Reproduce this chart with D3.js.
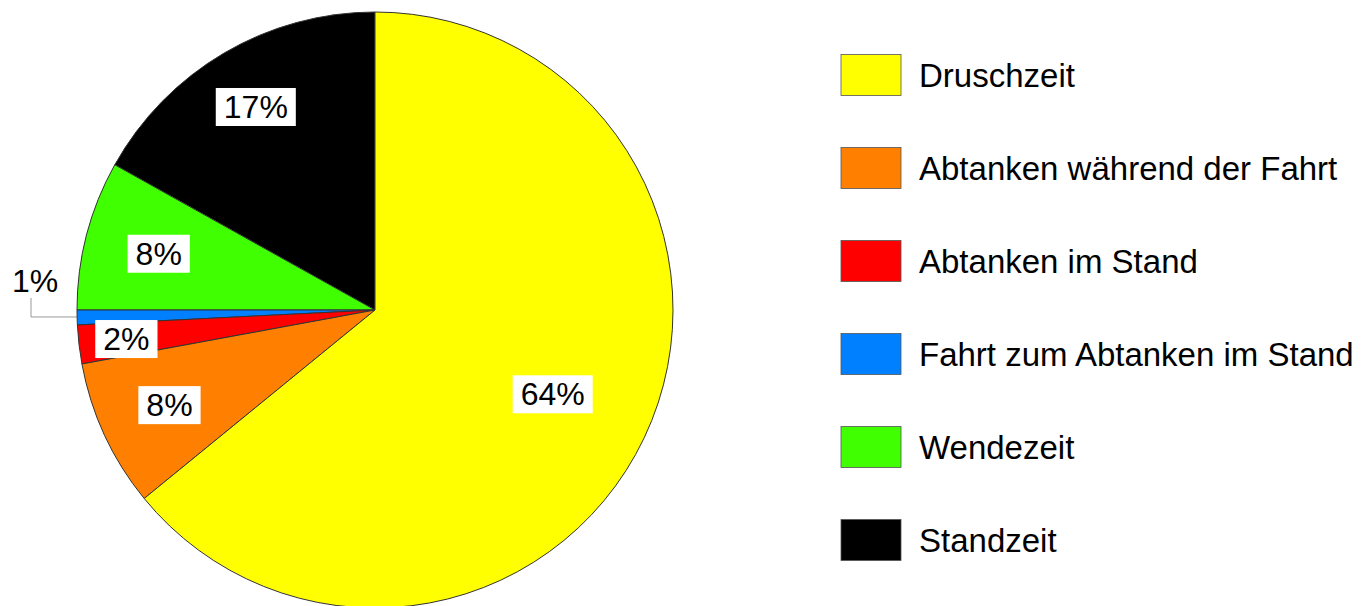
<!DOCTYPE html>
<html><head><meta charset="utf-8">
<script src="https://cdn.jsdelivr.net/npm/d3@7/dist/d3.min.js"></script>
<style>body{margin:0;background:#fff;}svg{display:block;font-family:"Liberation Sans",Arial,sans-serif;}</style>
</head><body><svg id="c" width="1367" height="606"></svg>
<script>
const categories = ["Druschzeit","Abtanken während der Fahrt","Abtanken im Stand","Fahrt zum Abtanken im Stand","Wendezeit","Standzeit"];
const values = [64.1, 8.0, 2.1, 0.8, 8.1, 16.9];
const labels = ["64%","8%","2%","1%","8%","17%"];
const colors = ["#ffff00","#ff8000","#ff0000","#0080ff","#40ff00","#000000"];

const svg = d3.select("#c");
const cx = 375, cy = 310, r = 298;
const g = svg.append("g").attr("transform",`translate(${cx},${cy})`);
const pie = d3.pie().sort(null).value(d=>d)(values);
const arc = d3.arc().innerRadius(0).outerRadius(r);
g.selectAll("path").data(pie).join("path")
  .attr("d",arc).attr("fill",(d,i)=>colors[i])
  .attr("stroke","#333").attr("stroke-width",1);

// label radius factors (layout only)
const lr = [0.66,0.76,0.84,null,0.75,0.79];
const fs = 32;
pie.forEach((d,i)=>{
  const a = (d.startAngle+d.endAngle)/2;
  if(lr[i]===null){
    const ex = Math.sin(a)*(r-20), ey = -Math.cos(a)*(r-20);
    const lx = -cx+31;
    g.append("path").attr("d",`M${ex},${ey}H${lx}V${ey-19}`)
      .attr("fill","none").attr("stroke","#999").attr("stroke-width",1);
    g.append("text").attr("x",lx+4).attr("y",ey-25).attr("text-anchor","middle")
      .attr("font-size",fs).attr("fill","#000").text(labels[i]);
    return;
  }
  const x = Math.sin(a)*r*lr[i], y = -Math.cos(a)*r*lr[i];
  const t = g.append("text").attr("x",x).attr("y",y).attr("text-anchor","middle")
    .attr("dominant-baseline","central").attr("font-size",fs).attr("fill","#000").text(labels[i]);
  const bb = t.node().getBBox();
  g.insert("rect","text").attr("x",x-bb.width/2-8).attr("y",y-19).attr("width",bb.width+16).attr("height",38).attr("fill","#fff");
});
g.selectAll("rect").lower(); g.selectAll("path").lower();

const leg = svg.append("g");
const ly = d3.scalePoint().domain(categories).range([75,540]);
categories.forEach((c,i)=>{
  leg.append("rect").attr("x",841).attr("y",ly(c)-20.5).attr("width",60).attr("height",41)
    .attr("fill",colors[i]).attr("stroke","#555").attr("stroke-width",0.8);
  leg.append("text").attr("x",919).attr("y",ly(c)).attr("dominant-baseline","central")
    .attr("font-size",33).attr("fill","#000").text(c);
});
</script></body></html>
